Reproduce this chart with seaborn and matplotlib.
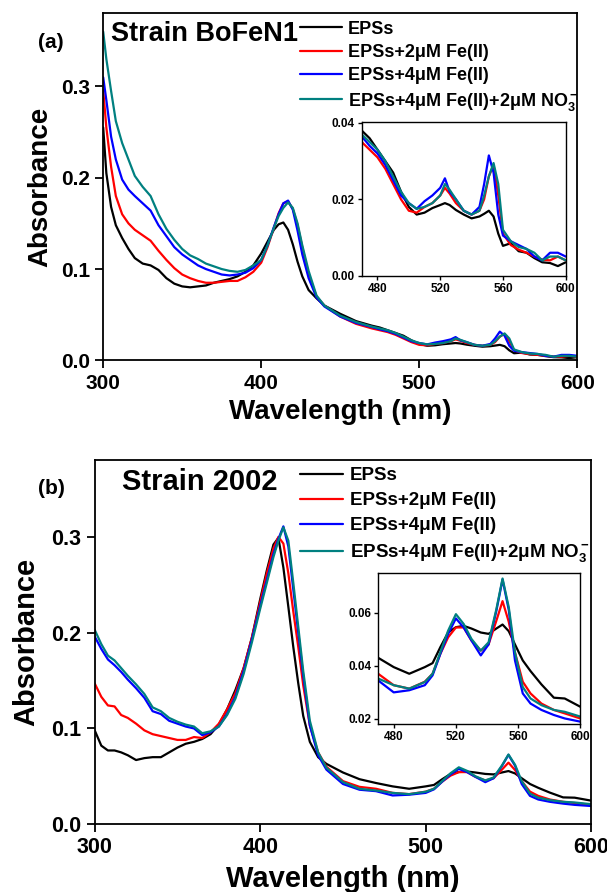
"""UV-vis spectra of EPSs with Fe(II) / nitrate, two strains, with insets."""

import matplotlib
matplotlib.use("Agg")
import matplotlib.pyplot as plt
import seaborn as sns
from matplotlib.ticker import FormatStrFormatter

labels = ["EPSs", "EPSs+2μM Fe(II)", "EPSs+4μM Fe(II)", "EPSs+4μM Fe(II)+2μM NO$_3^-$"]
colors = ["#000000", "#ff0000", "#0000ff", "#008080"]

# panel (a): strain BoFeN1
wl_a = [300, 302, 305, 308, 312, 316, 320, 325, 330, 335, 340, 345, 350, 355, 360,
        365, 370, 375, 380, 385, 390, 395, 400, 404, 408, 411, 414, 417, 420, 423,
        426, 430, 435, 440, 450, 460, 470, 475, 480, 485, 490, 495, 500, 505, 510,
        515, 520, 523, 526, 530, 535, 540, 545, 548, 551, 554, 557, 560, 565, 570,
        575, 580, 585, 590, 595, 600]
eps_a = [0.255, 0.205, 0.168, 0.148, 0.134, 0.122, 0.112, 0.106, 0.104, 0.099, 0.090,
         0.084, 0.081, 0.080, 0.081, 0.082, 0.085, 0.087, 0.089, 0.092, 0.097, 0.104,
         0.117, 0.130, 0.143, 0.149, 0.151, 0.143, 0.127, 0.108, 0.092, 0.077, 0.068,
         0.060, 0.051, 0.043, 0.038, 0.036, 0.033, 0.030, 0.027, 0.022, 0.018, 0.016,
         0.0165, 0.0177, 0.0185, 0.019, 0.0185, 0.0172, 0.016, 0.015, 0.0155, 0.0162,
         0.017, 0.0155, 0.011, 0.0078, 0.0085, 0.0064, 0.006, 0.0046, 0.0035, 0.0033,
         0.0025, 0.0035]
fe2_a = [0.296, 0.255, 0.212, 0.180, 0.160, 0.150, 0.143, 0.137, 0.131, 0.120, 0.110,
         0.101, 0.094, 0.090, 0.087, 0.085, 0.085, 0.086, 0.087, 0.087, 0.091, 0.097,
         0.107, 0.124, 0.145, 0.161, 0.172, 0.174, 0.166, 0.148, 0.124, 0.094, 0.070,
         0.060, 0.048, 0.040, 0.035, 0.033, 0.031, 0.028, 0.024, 0.020, 0.017, 0.0165,
         0.018, 0.019, 0.021, 0.023, 0.0215, 0.019, 0.017, 0.016, 0.017, 0.020, 0.026,
         0.029, 0.021, 0.011, 0.008, 0.0068, 0.006, 0.005, 0.0042, 0.004, 0.005, 0.004]
fe4_a = [0.310, 0.285, 0.245, 0.220, 0.198, 0.187, 0.180, 0.172, 0.164, 0.148, 0.136,
         0.124, 0.116, 0.110, 0.104, 0.100, 0.097, 0.094, 0.093, 0.094, 0.096, 0.101,
         0.110, 0.126, 0.146, 0.160, 0.172, 0.175, 0.165, 0.142, 0.116, 0.090, 0.069,
         0.059, 0.048, 0.041, 0.0365, 0.034, 0.032, 0.029, 0.025, 0.021, 0.019, 0.0175,
         0.0195, 0.021, 0.023, 0.0255, 0.022, 0.020, 0.017, 0.016, 0.018, 0.024, 0.0315,
         0.027, 0.016, 0.0105, 0.009, 0.008, 0.007, 0.005, 0.004, 0.006, 0.006, 0.005]
no3_a = [0.360, 0.330, 0.295, 0.262, 0.238, 0.220, 0.202, 0.190, 0.180, 0.160, 0.144,
         0.132, 0.122, 0.115, 0.111, 0.106, 0.103, 0.100, 0.098, 0.097, 0.099, 0.104,
         0.110, 0.126, 0.145, 0.158, 0.167, 0.173, 0.167, 0.150, 0.126, 0.098, 0.071,
         0.060, 0.049, 0.042, 0.037, 0.035, 0.033, 0.030, 0.026, 0.022, 0.019, 0.0175,
         0.018, 0.019, 0.021, 0.024, 0.0225, 0.020, 0.017, 0.016, 0.017, 0.021, 0.026,
         0.0295, 0.024, 0.012, 0.009, 0.0075, 0.007, 0.006, 0.004, 0.005, 0.005, 0.004]

# panel (b): strain 2002
wl_b = [300, 304, 308, 312, 316, 320, 325, 330, 335, 340, 345, 350, 355, 360, 365,
        370, 375, 380, 385, 390, 395, 400, 404, 408, 411, 414, 417, 420, 423, 426,
        430, 435, 440, 450, 460, 470, 480, 490, 500, 505, 510, 515, 520, 525, 530,
        536, 541, 546, 550, 554, 558, 563, 568, 575, 583, 590, 600]
eps_b = [0.098, 0.082, 0.077, 0.077, 0.075, 0.072, 0.067, 0.069, 0.070, 0.070, 0.075,
         0.080, 0.084, 0.086, 0.089, 0.094, 0.104, 0.120, 0.140, 0.163, 0.195, 0.235,
         0.265, 0.292, 0.299, 0.268, 0.227, 0.185, 0.147, 0.113, 0.086, 0.070, 0.063,
         0.054, 0.047, 0.043, 0.0395, 0.037, 0.0395, 0.041, 0.047, 0.0525, 0.0545,
         0.055, 0.054, 0.0525, 0.052, 0.054, 0.0555, 0.053, 0.048, 0.042, 0.038, 0.033,
         0.028, 0.0277, 0.0246]
fe2_b = [0.147, 0.133, 0.124, 0.123, 0.114, 0.111, 0.105, 0.098, 0.094, 0.092, 0.090,
         0.088, 0.088, 0.091, 0.090, 0.096, 0.105, 0.120, 0.137, 0.163, 0.195, 0.232,
         0.262, 0.288, 0.300, 0.293, 0.262, 0.222, 0.185, 0.145, 0.103, 0.075, 0.060,
         0.045, 0.039, 0.037, 0.0327, 0.0314, 0.034, 0.037, 0.0445, 0.0507, 0.0544,
         0.0544, 0.0495, 0.0457, 0.048, 0.0569, 0.0643, 0.0565, 0.045, 0.034, 0.0296,
         0.0258, 0.0234, 0.0221, 0.0202]
fe4_b = [0.196, 0.183, 0.172, 0.166, 0.159, 0.151, 0.142, 0.132, 0.118, 0.115, 0.108,
         0.105, 0.102, 0.100, 0.093, 0.096, 0.102, 0.115, 0.133, 0.160, 0.193, 0.228,
         0.255, 0.282, 0.298, 0.311, 0.290, 0.245, 0.200, 0.155, 0.103, 0.072, 0.057,
         0.042, 0.036, 0.0345, 0.030, 0.0308, 0.0327, 0.0364, 0.0445, 0.052, 0.0578,
         0.0544, 0.0495, 0.0439, 0.048, 0.0606, 0.0724, 0.061, 0.042, 0.0296, 0.0258,
         0.0234, 0.0215, 0.0202, 0.019]
no3_b = [0.203, 0.188, 0.176, 0.171, 0.163, 0.155, 0.146, 0.136, 0.122, 0.118, 0.111,
         0.107, 0.104, 0.102, 0.095, 0.097, 0.102, 0.114, 0.131, 0.157, 0.190, 0.225,
         0.252, 0.279, 0.296, 0.310, 0.296, 0.252, 0.206, 0.160, 0.108, 0.075, 0.059,
         0.044, 0.037, 0.0352, 0.0327, 0.0314, 0.0339, 0.037, 0.0451, 0.0532, 0.0594,
         0.0557, 0.0501, 0.0457, 0.0488, 0.0612, 0.0728, 0.0620, 0.045, 0.032, 0.0277,
         0.0252, 0.0234, 0.0227, 0.0209]

sns.set_style("ticks")
plt.rcParams["font.family"] = ["Liberation Sans", "DejaVu Sans"]
plt.rcParams["font.weight"] = "bold"
plt.rcParams["mathtext.fontset"] = "custom"
plt.rcParams["mathtext.rm"] = "Liberation Sans:bold"
plt.rcParams["mathtext.it"] = "Liberation Sans:bold"
plt.rcParams["mathtext.bf"] = "Liberation Sans:bold"
plt.rcParams["mathtext.default"] = "bf"
for key in ["text.color", "axes.labelcolor", "xtick.color", "ytick.color", "axes.edgecolor"]:
    plt.rcParams[key] = "black"

fig = plt.figure(figsize=(6.07, 8.92), dpi=100)


def draw_panel(ax_pos, ins_pos, wl, series, tag, title, fs, ins_ylim, ins_ticks,
               leg_xy, title_x, tag_y):
    ax = fig.add_axes(ax_pos)
    for vals, c, lab in zip(series, colors, labels):
        sns.lineplot(x=wl, y=vals, color=c, linewidth=1.6, label=lab, ax=ax, sort=False)
    ax.set_xlim(300, 600)
    ax.set_ylim(0, 0.38)
    ax.set_xticks([300, 400, 500, 600])
    ax.set_yticks([0.0, 0.1, 0.2, 0.3])
    ax.yaxis.set_major_formatter(FormatStrFormatter("%.1f"))
    ax.tick_params(direction="out", length=6, width=1.3, labelsize=fs["tick"])
    for s in ax.spines.values():
        s.set_linewidth(1.3)
    ax.set_xlabel("Wavelength (nm)", fontsize=fs["label"], fontweight="bold")
    ax.set_ylabel("Absorbance", fontsize=fs["label"], fontweight="bold")
    ax.yaxis.set_label_coords(fs["ylab_x"], 0.5)
    ax.xaxis.set_label_coords(0.5, fs["xlab_y"])
    ax.legend(loc="upper left", bbox_to_anchor=leg_xy, frameon=False,
              borderpad=0, borderaxespad=0, handlelength=2.3, handletextpad=0.35,
              labelspacing=fs["lspace"], prop={"size": fs["legend"], "weight": "bold"})
    ax.text(title_x, 0.94, title, transform=ax.transAxes, fontsize=fs["title"],
            fontweight="bold", va="center", ha="left")
    fig.text(0.063, tag_y, tag, fontsize=15, fontweight="bold", va="center")

    ins = fig.add_axes(ins_pos)
    for vals, c in zip(series, colors):
        sns.lineplot(x=wl, y=vals, color=c, linewidth=1.6, ax=ins, sort=False, legend=False)
    ins.set_xlim(470, 600)
    ins.set_ylim(*ins_ylim)
    ins.set_xticks([480, 520, 560, 600])
    ins.set_yticks(ins_ticks)
    ins.yaxis.set_major_formatter(FormatStrFormatter("%.2f"))
    ins.tick_params(direction="out", length=3, width=1.0, labelsize=8.5, pad=2)
    for s in ins.spines.values():
        s.set_linewidth(1.0)
    ins.set_xlabel("")
    ins.set_ylabel("")


draw_panel([0.170, 0.596, 0.781, 0.389], [0.596, 0.691, 0.336, 0.172],
           wl_a, [eps_a, fe2_a, fe4_a, no3_a], "(a)", "Strain BoFeN1",
           {"tick": 15, "label": 20, "legend": 13, "title": 19.5, "lspace": 0.35,
            "ylab_x": -0.106, "xlab_y": -0.11},
           (0, 0.0402), [0.00, 0.02, 0.04], (0.416, 0.979), 0.016, 1 - 42 / 892)

draw_panel([0.156, 0.076, 0.818, 0.408], [0.623, 0.188, 0.333, 0.170],
           wl_b, [eps_b, fe2_b, fe4_b, no3_b], "(b)", "Strain 2002",
           {"tick": 15.5, "label": 21, "legend": 13.5, "title": 21, "lspace": 0.42,
            "ylab_x": -0.110, "xlab_y": -0.113},
           (0.018, 0.075), [0.02, 0.04, 0.06], (0.414, 0.981), 0.056, 1 - 488 / 892)

fig.savefig("out.png", dpi=100)
